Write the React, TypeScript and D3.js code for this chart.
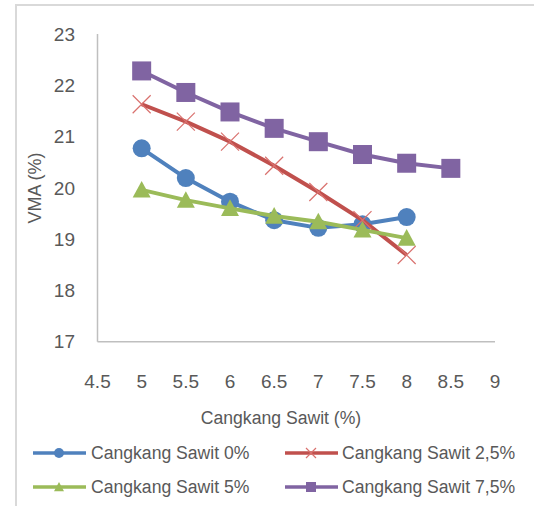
import React from "react";
import * as d3 from "d3";

const xValues = [5, 5.5, 6, 6.5, 7, 7.5, 8, 8.5];
const series0 = [20.77, 20.19, 19.73, 19.37, 19.22, 19.29, 19.43];
const series25 = [21.63, 21.29, 20.9, 20.43, 19.92, 19.37, 18.69];
const series5 = [19.96, 19.76, 19.6, 19.45, 19.34, 19.18, 19.02];
const series75 = [22.28, 21.86, 21.48, 21.16, 20.9, 20.65, 20.48, 20.38];
const seriesNames = ["Cangkang Sawit 0%", "Cangkang Sawit 2,5%", "Cangkang Sawit 5%", "Cangkang Sawit 7,5%"];
const xTicks = [4.5, 5, 5.5, 6, 6.5, 7, 7.5, 8, 8.5, 9];
const yTicks = [17, 18, 19, 20, 21, 22, 23];
const xTitle = "Cangkang Sawit (%)";
const yTitle = "VMA (%)";

const colors = ["#4F81BD", "#C0504D", "#9BBB59", "#8064A2"];
const markers = ["circle", "x", "triangle", "square"];
const font = "'Liberation Sans', Arial, sans-serif";
const textColor = "#595959";

function Marker({ type, x, y, color, size }: { type: string; x: number; y: number; color: string; size: number }) {
  const h = size / 2;
  if (type === "circle") return <circle cx={x} cy={y} r={h} fill={color} />;
  if (type === "square") return <rect x={x - h} y={y - h} width={size} height={size} fill={color} />;
  if (type === "triangle")
    return <path d={`M${x},${y - h}L${x + h},${y + h * 0.85}L${x - h},${y + h * 0.85}Z`} fill={color} />;
  return (
    <path
      d={`M${x - h},${y - h}L${x + h},${y + h}M${x - h},${y + h}L${x + h},${y - h}`}
      stroke="#D9716E"
      strokeWidth={1.2}
      fill="none"
    />
  );
}

export default function App() {
  const x = d3.scaleLinear().domain([4.5, 9]).range([97.5, 495]);
  const y = d3.scaleLinear().domain([17, 23]).range([341.7, 34]);
  const all = [series0, series25, series5, series75];
  const line = d3
    .line<number>()
    .x((_, i) => x(xValues[i]))
    .y((d) => y(d));

  const legend = [
    { lx: 33, tx: 91, cy: 453 },
    { lx: 285, tx: 342, cy: 453 },
    { lx: 33, tx: 91, cy: 487 },
    { lx: 285, tx: 342, cy: 487 },
  ];

  return (
    <svg
      width={534}
      height={506}
      style={{ position: "absolute", left: 0, top: 0 }}
      fontFamily={font}
    >
      <rect x={0} y={0} width={534} height={506} fill="#fff" />
      <path d="M16,520V5H540" fill="none" stroke="#D9D9D9" strokeWidth={2} />
      {/* axes */}
      <line x1={x(4.5)} x2={x(4.5)} y1={y(23)} y2={y(17)} stroke="#BFBFBF" strokeWidth={1.5} />
      <line x1={x(4.5)} x2={x(9)} y1={y(17)} y2={y(17)} stroke="#BFBFBF" strokeWidth={1.5} />
      {yTicks.map((t) => (
        <text key={t} x={75} y={y(t)} dy="0.35em" textAnchor="end" fontSize={19} fill={textColor}>
          {t}
        </text>
      ))}
      {xTicks.map((t) => (
        <text key={t} x={x(t)} y={388} textAnchor="middle" fontSize={19} fill={textColor}>
          {t}
        </text>
      ))}
      <text x={281} y={424} textAnchor="middle" fontSize={17.6} fill={textColor}>
        {xTitle}
      </text>
      <text
        transform={`translate(41,${188}) rotate(-90)`}
        textAnchor="middle"
        fontSize={18}
        fill={textColor}
      >
        {yTitle}
      </text>
      {all.map((s, si) => (
        <g key={si}>
          <path d={line(s) || ""} fill="none" stroke={colors[si]} strokeWidth={4} strokeLinejoin="round" />
          {s.map((v, i) => (
            <Marker key={i} type={markers[si]} x={x(xValues[i])} y={y(v)} color={colors[si]} size={si === 3 ? 19 : 18} />
          ))}
        </g>
      ))}
      {legend.map((l, i) => (
        <g key={i}>
          <line x1={l.lx} x2={l.lx + 53} y1={l.cy} y2={l.cy} stroke={colors[i]} strokeWidth={3.5} />
          <Marker type={markers[i]} x={l.lx + 26} y={l.cy} color={colors[i]} size={10} />
          <text x={l.tx} y={l.cy} dy="0.35em" fontSize={17.6} fill={textColor}>
            {seriesNames[i]}
          </text>
        </g>
      ))}
    </svg>
  );
}
